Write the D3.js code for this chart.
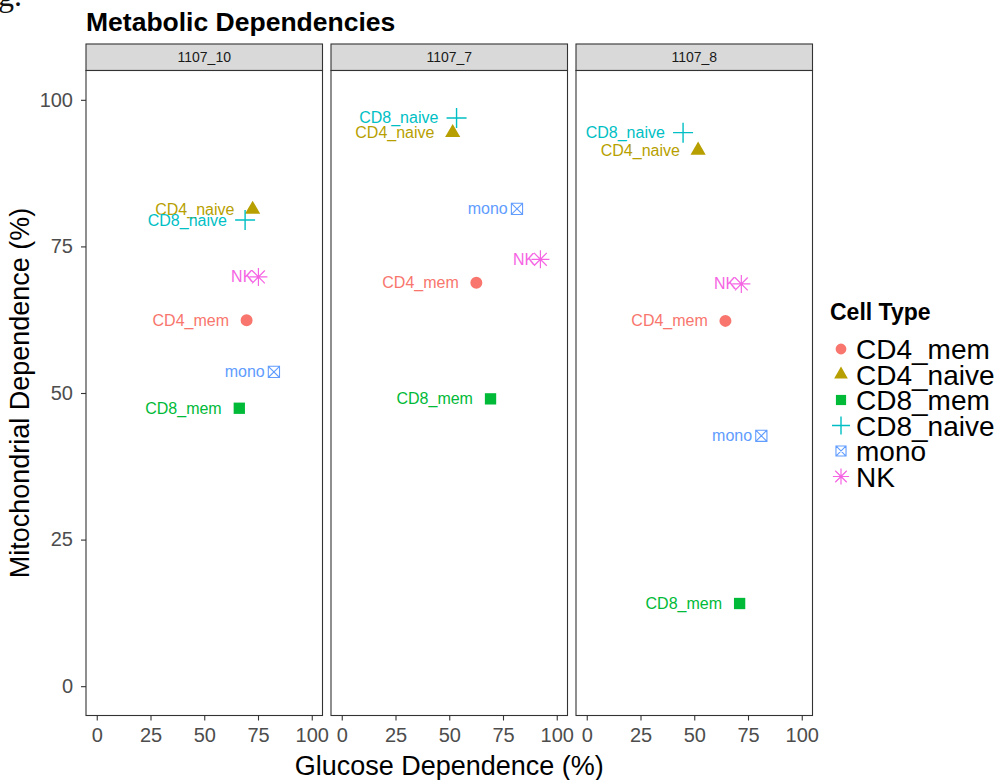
<!DOCTYPE html>
<html>
<head>
<meta charset="utf-8">
<script src="https://cdn.jsdelivr.net/npm/d3@7"></script>
<style>
  html, body { margin: 0; padding: 0; background: #fff; }
  svg { display: block; font-family: "Liberation Sans", Arial, sans-serif; }
</style>
</head>
<body>
<svg id="chart" width="1001" height="780"></svg>
<script>
// Facets (one per donor) and cell types
const samples = ["1107_10", "1107_7", "1107_8"];
const cellTypes = ["CD4_mem", "CD4_naive", "CD8_mem", "CD8_naive", "mono", "NK"];
const typeColors = ["#F8766D", "#B79F00", "#00BA38", "#00BFC4", "#619CFF", "#F564E3"];
const typeShapes = ["circle", "triangle", "square", "plus", "squarecross", "asterisk"];

// Glucose dependence (%) per sample, in cellTypes order
const glucose_1107_10 = [69.7, 72.5, 66.3, 69.0, 82.4, 75.2];
const glucose_1107_7  = [62.6, 51.6, 69.2, 53.4, 81.5, 92.4];
const glucose_1107_8  = [64.5, 51.8, 71.1, 44.8, 81.2, 71.9];

// Mitochondrial dependence (%) per sample, in cellTypes order
const mito_1107_10 = [62.4, 81.3, 47.4, 79.5, 53.6, 69.8];
const mito_1107_7  = [68.8, 94.4, 49.0, 96.9, 81.4, 72.8];
const mito_1107_8  = [62.3, 91.4, 14.1, 94.4, 42.7, 68.6];

const axisTicks = [0, 25, 50, 75, 100];

const glucoseBySample = [glucose_1107_10, glucose_1107_7, glucose_1107_8];
const mitoBySample = [mito_1107_10, mito_1107_7, mito_1107_8];

const svg = d3.select("#chart");

// ---- layout ----
const panelLeft = 86, panelW = 236.5, panelStep = 245;
const stripTop = 44, panelTop = 70.5, panelBottom = 715.5;
const tickLen = 5;
const inkColor = "#333333", tickTextColor = "#4D4D4D";

const y = d3.scaleLinear().domain([-5, 105]).range([panelBottom, panelTop]);

const color = d3.scaleOrdinal().domain(cellTypes).range(typeColors);
const shape = d3.scaleOrdinal().domain(cellTypes).range(typeShapes);

// point glyphs, drawn around (0,0)
function glyph(sel, type, col, k) {
  k = k || 1;
  if (type === "circle") {
    sel.append("path").attr("d", d3.symbol(d3.symbolCircle, 113 * k * k)()).attr("fill", col);
  } else if (type === "triangle") {
    sel.append("path").attr("d", d3.symbol(d3.symbolTriangle, 100 * k * k)()).attr("fill", col);
  } else if (type === "square") {
    sel.append("path").attr("d", d3.symbol(d3.symbolSquare, 128 * k * k)()).attr("fill", col);
  } else if (type === "plus") {
    const a = 10 * k;
    sel.append("path").attr("d", `M${-a},0H${a}M0,${-a}V${a}`)
      .attr("stroke", col).attr("stroke-width", 1.4).attr("fill", "none");
  } else if (type === "squarecross") {
    const a = 5.6 * k;
    sel.append("path").attr("d", `M${-a},${-a}H${a}V${a}H${-a}Z M${-a},${-a}L${a},${a}M${a},${-a}L${-a},${a}`)
      .attr("stroke", col).attr("stroke-width", 1.1).attr("fill", "none");
  } else if (type === "asterisk") {
    const a = 9 * k, b = 6.4 * k;
    sel.append("path").attr("d", `M${-a},0H${a}M0,${-a}V${a}M${-b},${-b}L${b},${b}M${b},${-b}L${-b},${b}`)
      .attr("stroke", col).attr("stroke-width", 1.2).attr("fill", "none");
  }
}

// ---- title ----
svg.append("text").attr("x", -2).attr("y", 6)
  .attr("font-family", "'Liberation Serif', serif").attr("font-size", 32).attr("fill", "#111")
  .text("g.");
svg.append("text").attr("x", 86).attr("y", 31)
  .attr("font-size", 26.5).attr("font-weight", "bold").attr("fill", "#000")
  .text("Metabolic Dependencies");

// ---- facets ----
samples.forEach((s, i) => {
  const left = panelLeft + i * panelStep;
  const x = d3.scaleLinear().domain([-5, 105]).range([left, left + panelW]);
  const g = svg.append("g");

  // strip
  g.append("rect").attr("x", left).attr("y", stripTop).attr("width", panelW).attr("height", panelTop - stripTop)
    .attr("fill", "#D9D9D9").attr("stroke", inkColor).attr("stroke-width", 1.1);
  g.append("text").attr("x", left + panelW / 2).attr("y", (stripTop + panelTop) / 2 + 5)
    .attr("text-anchor", "middle").attr("font-size", 14).attr("fill", "#1A1A1A").text(s);

  // panel
  g.append("rect").attr("x", left).attr("y", panelTop).attr("width", panelW).attr("height", panelBottom - panelTop)
    .attr("fill", "#fff").attr("stroke", inkColor).attr("stroke-width", 1.1);

  // bottom axis
  const xAxis = d3.axisBottom(x).tickValues(axisTicks).tickSize(tickLen).tickPadding(7).tickFormat(d3.format("d"));
  const ax = g.append("g").attr("transform", `translate(0,${panelBottom})`).call(xAxis);
  ax.select(".domain").remove();
  ax.selectAll(".tick line").attr("stroke", inkColor).attr("stroke-width", 1.1);
  ax.selectAll(".tick text").attr("font-size", 20).attr("fill", tickTextColor)
    .attr("font-family", "'Liberation Sans', Arial, sans-serif");

  // left axis on the first facet only
  if (i === 0) {
    const yAxis = d3.axisLeft(y).tickValues(axisTicks).tickSize(tickLen).tickPadding(8).tickFormat(d3.format("d"));
    const ay = g.append("g").attr("transform", `translate(${left},0)`).call(yAxis);
    ay.select(".domain").remove();
    ay.selectAll(".tick line").attr("stroke", inkColor).attr("stroke-width", 1.1);
    ay.selectAll(".tick text").attr("font-size", 20).attr("fill", tickTextColor)
      .attr("font-family", "'Liberation Sans', Arial, sans-serif");
  }

  const rows = cellTypes.map((t, j) => ({ type: t, gx: glucoseBySample[i][j], my: mitoBySample[i][j] }));

  // labels, right-aligned to the left of each point
  const lab = g.append("g").selectAll("text").data(rows).join("text")
    .attr("font-size", 16).attr("fill", d => color(d.type))
    .attr("y", d => y(d.my) + 5.5)
    .text(d => d.type);
  lab.each(function (d) {
    const w = this.getComputedTextLength();
    d3.select(this).attr("x", x(d.gx) - 1.23 * w);
  });

  // points
  const pts = g.append("g").selectAll("g").data(rows).join("g")
    .attr("transform", d => `translate(${x(d.gx)},${y(d.my)})`);
  pts.each(function (d) { glyph(d3.select(this), shape(d.type), color(d.type)); });
});

// ---- axis titles ----
svg.append("text").attr("x", panelLeft + (2 * panelStep + panelW) / 2).attr("y", 775)
  .attr("text-anchor", "middle").attr("font-size", 27).attr("fill", "#000")
  .text("Glucose Dependence (%)");
svg.append("text").attr("transform", `translate(29,${(panelTop + panelBottom) / 2}) rotate(-90)`)
  .attr("text-anchor", "middle").attr("font-size", 27).attr("fill", "#000")
  .text("Mitochondrial Dependence (%)");

// ---- legend ----
const legend = svg.append("g");
legend.append("text").attr("x", 830).attr("y", 320)
  .attr("font-size", 23).attr("font-weight", "bold").attr("fill", "#000").text("Cell Type");
const legRowStart = 349, legRowStep = 25.5;
cellTypes.forEach((t, j) => {
  const cy = legRowStart + j * legRowStep;
  const kg = legend.append("g").attr("transform", `translate(841,${cy})`);
  glyph(kg, shape(t), color(t), 0.9);
  legend.append("text").attr("x", 856).attr("y", cy + 10)
    .attr("font-size", 28).attr("fill", "#000").text(t);
});
</script>
</body>
</html>
